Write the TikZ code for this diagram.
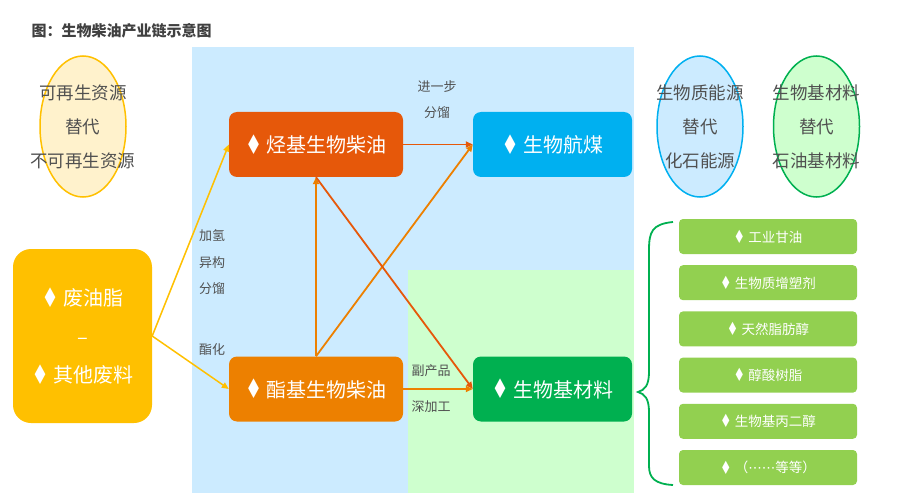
\documentclass[tikz,border=0pt]{standalone}
\usepackage{fontspec}
\setmainfont{Noto Sans CJK SC}
\newfontfamily\symfont{DejaVu Sans}
\usetikzlibrary{shapes.geometric,arrows.meta}
\definecolor{bgblue}{RGB}{204,235,255}
\definecolor{bggreen}{RGB}{206,255,206}
\definecolor{hvored}{RGB}{230,88,10}
\definecolor{fameorange}{RGB}{237,128,0}
\definecolor{safblue}{RGB}{0,176,240}
\definecolor{biogreen}{RGB}{0,176,80}
\definecolor{wasteyellow}{RGB}{255,192,0}
\definecolor{prodgreen}{RGB}{146,208,80}
\definecolor{labelgray}{RGB}{80,80,80}
\newcommand{\dia}{{\symfont\raisebox{-0.08em}{\scalebox{0.95}[1.35]{♦}}}}
\newcommand{\cdotsdots}{{\symfont ⋯⋯}}

\tikzset{
  bigbox/.style={rounded corners=8pt, text=white, font=\fontsize{20}{24}\selectfont,
    minimum width=174pt, minimum height=65pt, inner sep=0pt},
  prodbox/.style={rounded corners=4pt, fill=prodgreen, text=white,
    font=\fontsize{13.5}{16}\selectfont, minimum width=178pt, minimum height=35pt, inner sep=0pt},
  oval/.style={ellipse, line width=1.5pt, minimum width=86pt, minimum height=141pt, inner sep=0pt},
  ovaltext/.style={text=labelgray, align=center, font=\fontsize{17.5}{34}\selectfont},
  steplabel/.style={text=labelgray, align=center, font=\fontsize{13}{26.5}\selectfont},
  flow/.style={-{Triangle[length=7pt,width=6pt]}, line width=1.8pt},
}

\begin{document}
\begin{tikzpicture}[x=1pt, y=-1pt]
  \useasboundingbox (0,0) rectangle (900,500);
  % backgrounds
  \fill[bgblue] (192,47) rectangle (634,493);
  \fill[bggreen] (408,270) rectangle (634,493);
  \node[anchor=west, text={rgb,255:red,64;green,64;blue,64}, font=\bfseries\fontsize{15}{18}\selectfont] (title) at (28,31) {图：生物柴油产业链示意图};

  % the three ovals
  \node[oval, draw=wasteyellow, fill={rgb,255:red,255;green,242;blue,204}] (renew) at (83,126.5) {};
  \node[ovaltext] at (renew) {可再生资源\\替代\\不可再生资源};
  \node[oval, draw=safblue, fill=bgblue] (energy) at (700,126.5) {};
  \node[ovaltext] at (energy) {生物质能源\\替代\\化石能源};
  \node[oval, draw=biogreen, fill=bggreen] (material) at (816.5,126.5) {};
  \node[ovaltext] at (material) {生物基材料\\替代\\石油基材料};

  % main boxes
  \node[bigbox, fill=wasteyellow, minimum width=139pt, minimum height=174pt, rounded corners=18pt,
    align=center, font=\fontsize{20}{38.5}\selectfont] (waste) at (82.5,336) {\dia\ 废油脂\\–\\\dia\ 其他废料};
  \node[bigbox, fill=hvored] (hvo) at (316,144.5) {\dia\ 烃基生物柴油};
  \node[bigbox, fill=fameorange] (fame) at (316,389) {\dia\ 酯基生物柴油};
  \node[bigbox, fill=safblue, minimum width=159pt] (saf) at (552.5,144.5) {\dia\ 生物航煤};
  \node[bigbox, fill=biogreen, minimum width=159pt] (bio) at (552.5,389) {\dia\ 生物基材料};

  % products
  \foreach \t [count=\i] in {工业甘油, 生物质增塑剂, 天然脂肪醇, 醇酸树脂, 生物基丙二醇, （\cdotsdots 等等）}
    \node[prodbox] (prod\i) at (768,236.5+46.2*\i-46.2) {\dia\ \t};

  % flows
  \draw[flow, wasteyellow, line width=1.5pt] (waste.east) -- (hvo.west);
  \draw[flow, wasteyellow, line width=1.5pt] (waste.east) -- (fame.west);
  \draw[flow, hvored] (hvo.east) -- (saf.west);
  \draw[flow, fameorange] (fame.north) -- (hvo.south);
  \draw[flow, fameorange] (fame.north) -- (saf.west);
  \draw[flow, hvored] (hvo.south) -- (bio.west);
  \draw[flow, fameorange] (fame.east) -- (bio.west);

  % step labels
  \node[steplabel] (fractionate) at (437,99.5) {进一步\\分馏};
  \node[steplabel] (hydro) at (212,262.5) {加氢\\异构\\分馏};
  \node[steplabel] (ester) at (212,350) {酯化};
  \node[steplabel] (byprod) at (431,371) {副产品};
  \node[steplabel] (deep) at (431,407) {深加工};

  % brace
  \draw[biogreen, line width=1.8pt] (673,222) .. controls (652,224) and (649,232) .. (649,250)
    -- (649,372) .. controls (649,385) and (645,390) .. (638,392)
    .. controls (645,394) and (649,399) .. (649,412)
    -- (649,466) .. controls (649,478) and (655,484) .. (673,485);
\end{tikzpicture}
\end{document}
